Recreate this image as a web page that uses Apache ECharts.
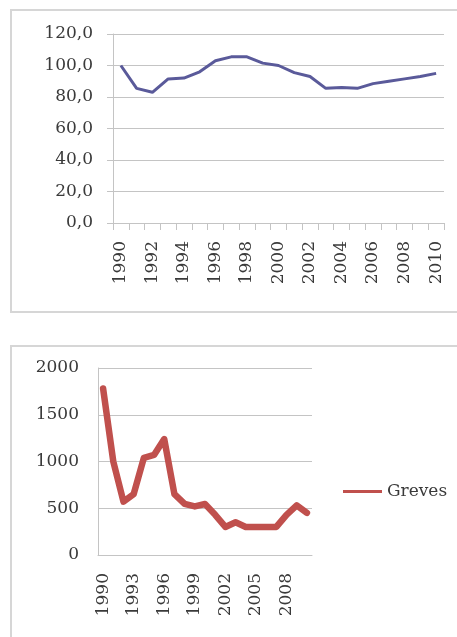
<!DOCTYPE html>
<html>
<head>
<meta charset="utf-8">
<script src="https://cdn.jsdelivr.net/npm/echarts@6/dist/echarts.min.js"></script>
<style>
  html,body{margin:0;padding:0;background:#fff;}
  #ch{width:457px;height:637px;}
</style>
</head>
<body>
<div id="ch"></div>
<script>
/* dois gráficos: índice (1990=100) e número de greves */
const ANOS = [...Array(21).keys()].map(i=>String(1990+i));
const INDICE = [100, 85.5, 83, 91.5, 92, 96, 103, 105.5, 105.5, 101.5, 100, 95.5, 93, 85.5, 86, 85.5, 88.5, 90, 91.5, 93, 95];
const GREVES = [1780, 1000, 570, 650, 1040, 1070, 1240, 650, 546, 520, 545, 430, 300, 350, 300, 300, 300, 300, 430, 530, 450];
const Y1_MAX = 120, Y1_STEP = 20;
const Y2_MAX = 2000, Y2_STEP = 500;

const FONT = "DejaVu Serif";
const TXT = "#3a3a3a";
const GRID = "#c4c4c4";
const lab = {fontFamily:FONT, fontSize:17, color:TXT};

const chart = echarts.init(document.getElementById("ch"));
chart.setOption({
  animation:false,
  textStyle:{fontFamily:FONT},
  graphic:[
    {type:"rect", shape:{x:11,y:10,width:470,height:302}, style:{fill:"none",stroke:"#d6d6d6",lineWidth:2}, silent:true},
    {type:"rect", shape:{x:11,y:346,width:470,height:310}, style:{fill:"none",stroke:"#d6d6d6",lineWidth:2}, silent:true}
  ],
  grid:[
    {left:113, top:34, width:331, height:189},
    {left:98, top:368, width:214, height:187}
  ],
  legend:{
    data:[{name:"Greves", icon:"rect"}], left:343, top:483, padding:0, itemWidth:39, itemHeight:3,
    textStyle:{...lab}
  },
  xAxis:[
    {type:"category", gridIndex:0, data:ANOS, boundaryGap:true,
     axisLine:{lineStyle:{color:GRID}}, axisTick:{show:true, interval:0, length:7, lineStyle:{color:GRID}},
     axisLabel:{...lab, rotate:90, interval:1, margin:18}},
    {type:"category", gridIndex:1, data:ANOS, boundaryGap:true,
     axisLine:{lineStyle:{color:GRID}}, axisTick:{show:false},
     axisLabel:{...lab, rotate:90, interval:2, margin:18}}
  ],
  yAxis:[
    {type:"value", gridIndex:0, min:0, max:Y1_MAX, interval:Y1_STEP,
     axisLine:{show:true, lineStyle:{color:GRID}}, axisTick:{show:true, length:6, lineStyle:{color:GRID}},
     splitLine:{lineStyle:{color:GRID}},
     axisLabel:{...lab, margin:20, formatter:v=>v.toFixed(1).replace(".",",")}},
    {type:"value", gridIndex:1, min:0, max:Y2_MAX, interval:Y2_STEP,
     axisLine:{show:true, lineStyle:{color:GRID}}, axisTick:{show:false},
     splitLine:{lineStyle:{color:GRID}},
     axisLabel:{...lab, margin:19, formatter:v=>String(v)}}
  ],
  series:[
    {name:"Índice", type:"line", xAxisIndex:0, yAxisIndex:0, data:INDICE, symbol:"none",
     lineStyle:{width:3, color:"#5a5a9a"}, itemStyle:{color:"#5a5a9a"}},
    {name:"Greves", type:"line", xAxisIndex:1, yAxisIndex:1, data:GREVES, symbol:"none",
     lineStyle:{width:6.5, color:"#c0504d", join:"round", cap:"round"}, itemStyle:{color:"#c0504d"}}
  ]
});
</script>
</body>
</html>
